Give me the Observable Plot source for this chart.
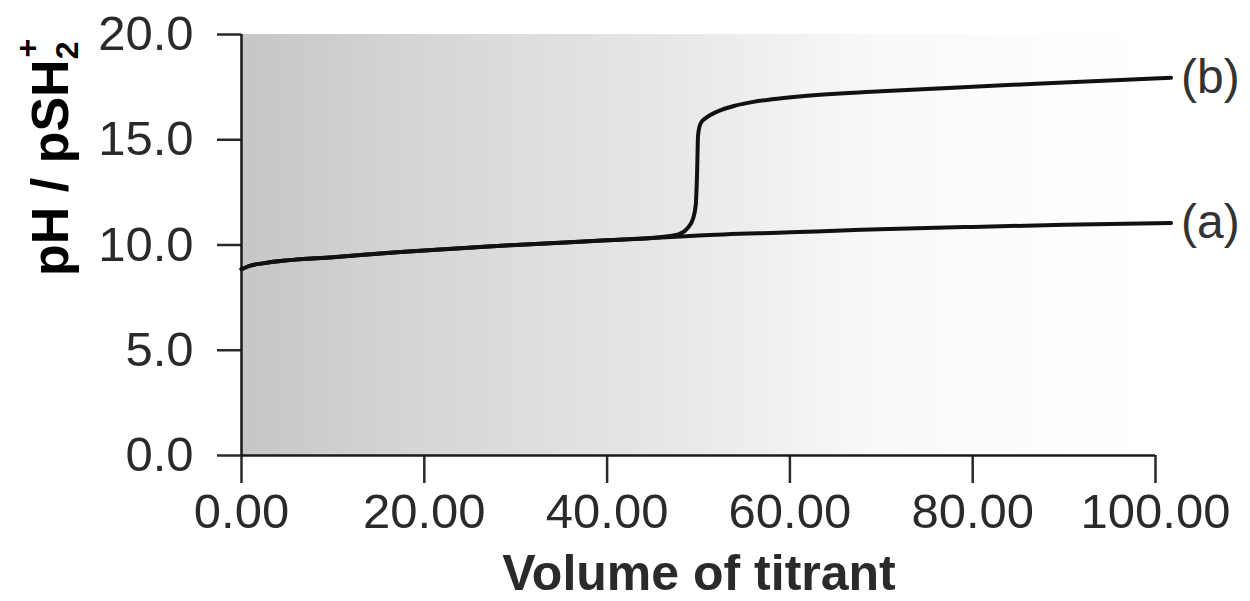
<!DOCTYPE html>
<html>
<head>
<meta charset="utf-8">
<script src="https://cdn.jsdelivr.net/npm/d3@7"></script>
<script src="https://cdn.jsdelivr.net/npm/@observablehq/plot@0.6"></script>
<style>
  html, body { margin: 0; padding: 0; background: #fff; }
  #chart { width: 1250px; height: 601px; overflow: hidden; }
</style>
</head>
<body>
<div id="chart"></div>
<script>
// ---- data ----
const curveAVolume = [0, 1, 2.5, 5, 10, 17, 20, 27, 30, 40, 47, 50, 60, 67.8, 80, 90, 101.7];
const curveApH     = [8.85, 9.02, 9.14, 9.27, 9.42, 9.65, 9.74, 9.93, 10.0, 10.22, 10.38, 10.45, 10.6, 10.72, 10.86, 10.96, 11.05];

const curveBVolume = [0, 1, 2.5, 5, 10, 17, 20, 27, 30, 40, 46, 47.8, 48.8, 49.4, 49.7, 49.85, 49.95, 50.2, 50.7, 51.4, 52.5, 54, 56, 58, 61, 70, 80, 90, 101.7];
const curveBpH     = [8.85, 9.02, 9.14, 9.27, 9.42, 9.65, 9.74, 9.93, 10.0, 10.22, 10.38, 10.5, 10.8, 11.25, 11.9, 13.5, 15.2, 15.75, 16.0, 16.2, 16.42, 16.62, 16.8, 16.92, 17.06, 17.3, 17.52, 17.72, 17.95];

const seriesLabels = ["(a)", "(b)"];
const xTicks = [0, 20, 40, 60, 80, 100];
const yTicks = [0, 5, 10, 15, 20];
const xTitle = "Volume of titrant";
const yTitleParts = [["pH / pSH", "base"], ["2", "sub"], ["+", "sup"]];

// ---- tables built from the arrays ----
const seriesA = curveAVolume.map((v, i) => ({v, p: curveApH[i]}));
const seriesB = curveBVolume.map((v, i) => ({v, p: curveBpH[i]}));
const labelRows = [
  {label: seriesLabels[0], v: curveAVolume.at(-1), p: curveApH.at(-1)},
  {label: seriesLabels[1], v: curveBVolume.at(-1), p: curveBpH.at(-1)}
];

// gradient background as a custom mark using the plot scales
function gradientBackground(index, scales) {
  const ns = "http://www.w3.org/2000/svg";
  const g = document.createElementNS(ns, "g");
  const x0 = scales.x(xTicks[0]), x1 = scales.x(xTicks.at(-1));
  const y0 = scales.y(yTicks.at(-1)), y1 = scales.y(yTicks[0]);
  g.innerHTML =
    `<defs><linearGradient id="bgGrad" x1="0" x2="1" y1="0" y2="0">
       <stop offset="0" stop-color="#c6c6c6"/>
       <stop offset="0.2" stop-color="#d6d6d6"/>
       <stop offset="0.45" stop-color="#e6e6e6"/>
       <stop offset="0.7" stop-color="#f9f9f9"/>
       <stop offset="1" stop-color="#ffffff"/>
     </linearGradient></defs>
     <rect x="${x0}" y="${y0}" width="${x1 - x0}" height="${y1 - y0}" fill="url(#bgGrad)"/>`;
  return g;
}

const plot = Plot.plot({
  width: 1250,
  height: 601,
  marginLeft: 241,
  marginRight: 95,
  marginTop: 34,
  marginBottom: 146,
  style: {fontFamily: "'Liberation Sans', Arial, sans-serif", background: "#fff", overflow: "visible"},
  x: {domain: [0, 100], label: null},
  y: {domain: [0, 20], label: null},
  marks: [
    gradientBackground,
    Plot.axisX({ticks: xTicks, tickFormat: d3.format(".2f"), tickSize: 28, tickPadding: 10,
                fontSize: 49, strokeWidth: 2.5, color: "#2a2a2a", label: null}),
    Plot.axisY({ticks: yTicks, tickFormat: d3.format(".1f"), tickSize: 24, tickPadding: 24,
                fontSize: 49, strokeWidth: 2.5, color: "#2a2a2a", label: null}),
    Plot.ruleX([0], {stroke: "#1a1a1a", strokeWidth: 2.5}),
    Plot.ruleY([0], {stroke: "#1a1a1a", strokeWidth: 2.5}),
    Plot.line(seriesA, {x: "v", y: "p", stroke: "#111", strokeWidth: 4, curve: "monotone-x"}),
    Plot.line(seriesB, {x: "v", y: "p", stroke: "#111", strokeWidth: 4, curve: "monotone-x"}),
    Plot.text(labelRows, {x: "v", y: "p", text: "label", dx: 10, textAnchor: "start",
                          fontSize: 48, fill: "#333"})
  ]
});

const svg = d3.select(plot);
// x-axis title
svg.append("text")
  .attr("x", 699).attr("y", 590)
  .attr("text-anchor", "middle")
  .attr("font-family", "'Liberation Sans', Arial, sans-serif")
  .attr("font-weight", "bold").attr("font-size", 50)
  .attr("fill", "#2a2a2a")
  .text(xTitle);

// y-axis title with subscript / superscript
const yt = svg.append("text")
  .attr("transform", "translate(68,276) rotate(-90)")
  .attr("text-anchor", "start")
  .attr("font-family", "'Liberation Sans', Arial, sans-serif")
  .attr("font-weight", "bold").attr("font-size", 52)
  .attr("fill", "#000");
yt.append("tspan").text(yTitleParts[0][0]);
yt.append("tspan").attr("font-size", 32).attr("dy", 10).text(yTitleParts[1][0]);
yt.append("tspan").attr("font-size", 32).attr("dx", -16).attr("dy", -40).text(yTitleParts[2][0]);

document.getElementById("chart").appendChild(plot);
</script>
</body>
</html>
